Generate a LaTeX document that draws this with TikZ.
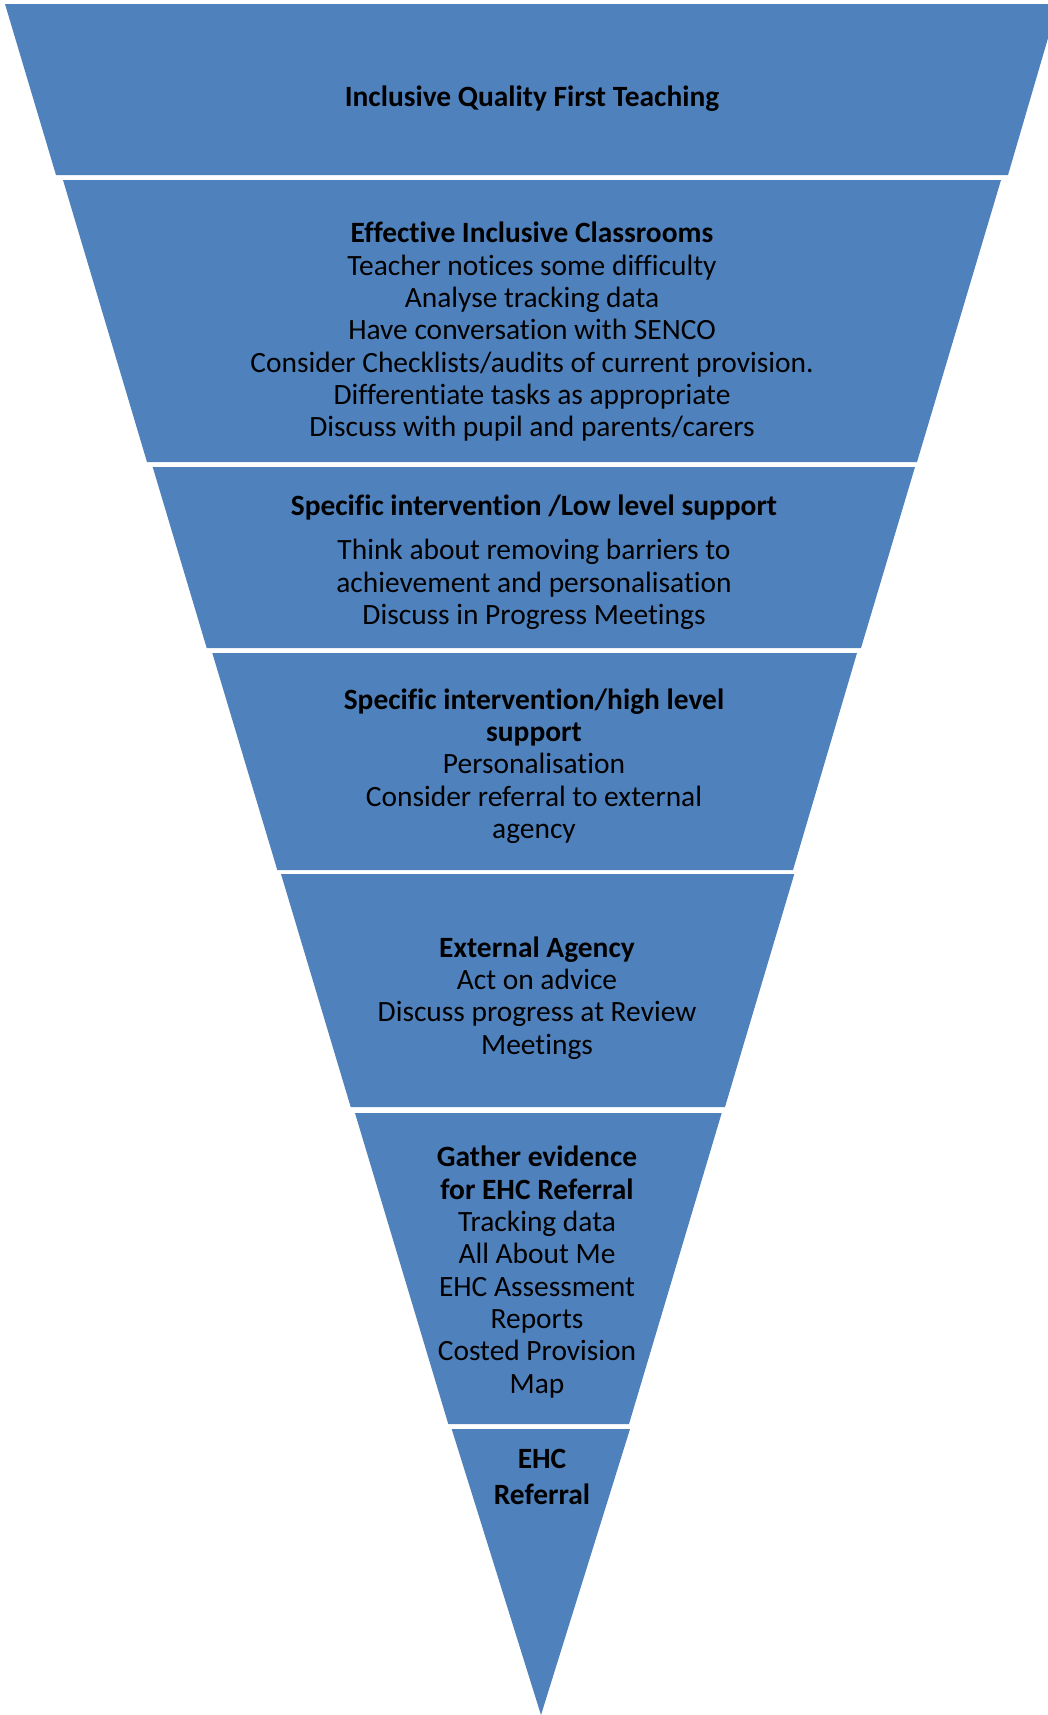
\documentclass[tikz,border=0pt]{standalone}
\usepackage{fontspec}
\setmainfont{Carlito}[Ligatures=NoCommon]
\usepackage{tikz}
\usetikzlibrary{positioning}
\usepackage{xcolor}
\definecolor{coneblue}{RGB}{79,129,189}

\begin{document}
\begin{tikzpicture}[x=0.02cm,y=-0.02cm,
    band/.style={fill=coneblue},
    tier/.style={align=center,font=\fontsize{16.75}{18.4}\selectfont,inner sep=0pt}]
    \useasboundingbox (0,0) rectangle (1048,1715);
    \clip (0,0) rectangle (1048,1715);

    % Bands of the cone
    \fill[band] (5,4) -- (1058,4) -- (1008,175) -- (56,175) -- cycle;
    \fill[band] (63,180) -- (1001,180) -- (917,462) -- (147,462) -- cycle;
    \fill[band] (152.7,467) -- (915,467) -- (861,648) -- (206.7,648) -- cycle;
    \fill[band] (212.3,653) -- (857,653) -- (793,870) -- (277.3,870) -- cycle;
    \fill[band] (281,874) -- (794.3,874) -- (725,1107) -- (350.7,1107) -- cycle;
    \fill[band] (355,1113) -- (721.7,1113) -- (629,1424) -- (448.3,1424) -- cycle;
    \fill[band] (451.7,1429) -- (630,1429) -- (541,1715) -- cycle;

    % Quality first teaching
    \node[tier] (quality) at (532,99) {\textbf{Inclusive Quality First Teaching}};

    % Classrooms
    \node[tier] (classroom) at (532,332) {\textbf{Effective Inclusive Classrooms}\\
        Teacher notices some difficulty\\
        Analyse tracking data\\
        Have conversation with SENCO\\
        Consider Checklists/audits of current provision.\\
        Differentiate tasks as appropriate\\
        Discuss with pupil and parents/carers};

    % Low level support
    \node[tier] (lowlevel) at (534,562) {\textbf{Specific intervention /Low level support}\\[7pt]
        Think about removing barriers to\\
        achievement and personalisation\\
        Discuss in Progress Meetings};

    % High level support
    \node[tier] (highlevel) at (534,766) {\textbf{Specific intervention/high level}\\
        \textbf{support}\\
        Personalisation\\
        Consider referral to external\\
        agency};

    % External agency
    \node[tier] (agency) at (537,998) {\textbf{External Agency}\\
        Act on advice\\
        Discuss progress at Review\\
        Meetings};

    % Evidence
    \node[tier] (evidence) at (537,1272) {\textbf{Gather evidence}\\
        \textbf{for EHC Referral}\\
        Tracking data\\
        All About Me\\
        EHC Assessment\\
        Reports\\
        Costed Provision\\
        Map};

    % Referral
    \node[tier] (referral) at (542,1477) {\textbf{EHC}\\[2pt]
        \textbf{Referral}};
\end{tikzpicture}
\end{document}
